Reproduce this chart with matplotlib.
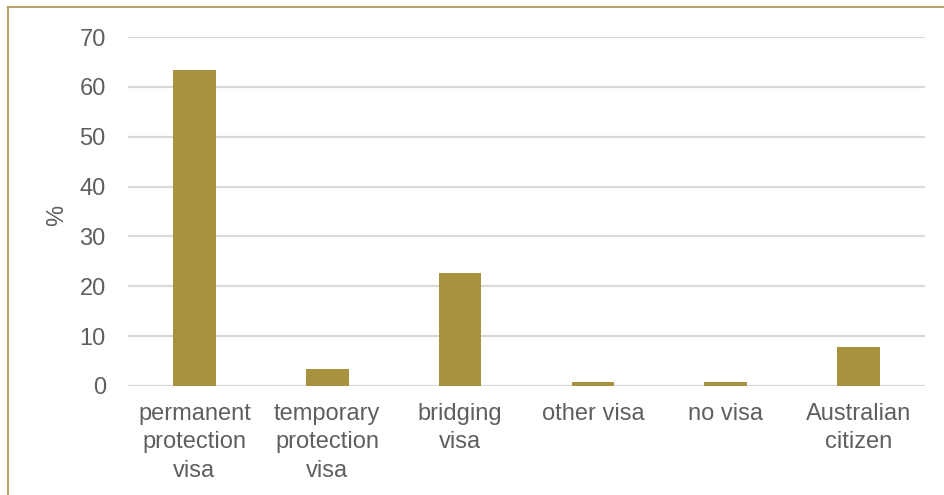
import matplotlib.pyplot as plt
from matplotlib.lines import Line2D

plt.rcParams['font.family'] = ['Liberation Sans', 'DejaVu Sans']

# visa status categories and share of respondents (%)
categories = ['permanent\nprotection\nvisa', 'temporary\nprotection\nvisa', 'bridging\nvisa',
              'other visa', 'no visa', 'Australian\ncitizen']
values = [63.3, 3.5, 22.6, 0.9, 0.9, 7.9]
yticks = [0, 10, 20, 30, 40, 50, 60, 70]

text_color = '#5f5f5f'
bar_color = '#a8923f'

fig = plt.figure(figsize=(9.44, 4.95), dpi=100)
ax = fig.add_axes([128 / 944, 1 - 386 / 495, 797 / 944, 349 / 495])

x = range(len(categories))
ax.bar(x, values, width=0.32, color=bar_color, zorder=3)

ax.set_xlim(-0.5, len(categories) - 0.5)
ax.set_ylim(0, 70)
ax.set_yticks(yticks)
ax.set_xticks(list(x))
ax.set_xticklabels(categories, linespacing=1.4)
ax.grid(axis='y', color='#d9d9d9', linewidth=1.6, zorder=0)
ax.tick_params(length=0, labelsize=17, labelcolor=text_color)
ax.tick_params(axis='y', pad=16)
ax.tick_params(axis='x', pad=12)
for s in ax.spines.values():
    s.set_visible(False)

ax.set_ylabel('%', fontsize=17, color=text_color)
ax.yaxis.set_label_coords(-0.075, 0.49)

# thin frame along top and left edge
fig.add_artist(Line2D([8 / 944, 1], [1 - 7 / 495, 1 - 7 / 495], transform=fig.transFigure,
                      color='#b5a36b', linewidth=1.5))
fig.add_artist(Line2D([8 / 944, 8 / 944], [0, 1 - 7 / 495], transform=fig.transFigure,
                      color='#b5a36b', linewidth=1.5))

fig.savefig('out.png', dpi=100)
